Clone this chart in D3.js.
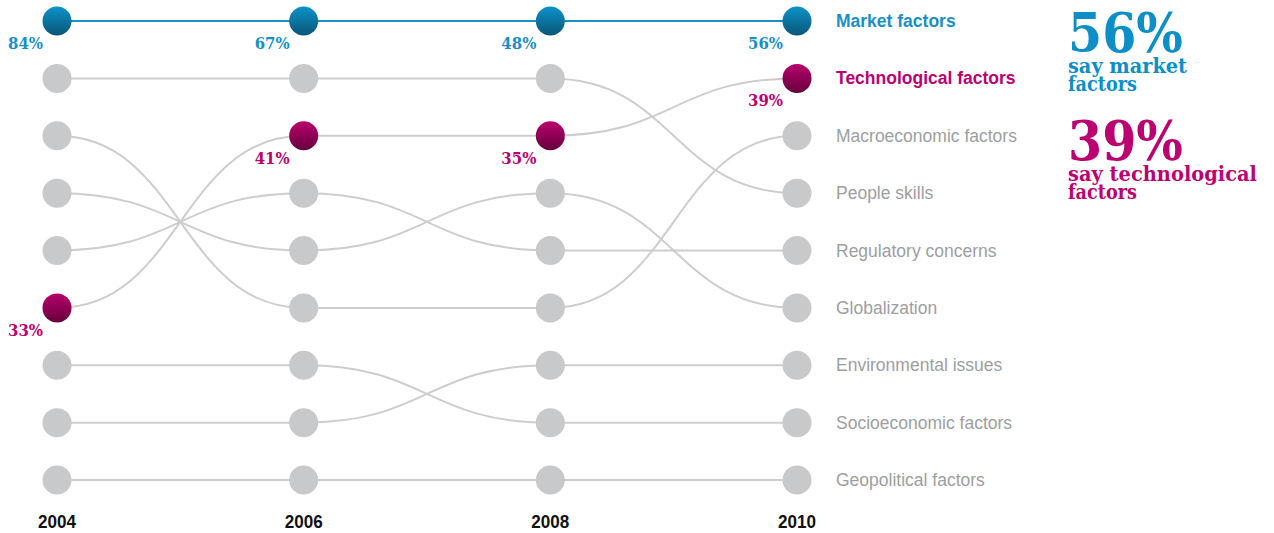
<!DOCTYPE html>
<html>
<head>
<meta charset="utf-8">
<script src="https://cdn.jsdelivr.net/npm/d3@7"></script>
<style>
  body { margin: 0; background: #fff; }
  svg { display: block; }
</style>
</head>
<body>
<svg id="chart" width="1274" height="533"></svg>
<script>
// survey years and factor ranks (1 = top)
const years = ["2004", "2006", "2008", "2010"]
const factors = ["Market factors", "Technological factors", "Macroeconomic factors", "People skills",
  "Regulatory concerns", "Globalization", "Environmental issues", "Socioeconomic factors", "Geopolitical factors"]
const ranks = [
  [1, 1, 1, 1],
  [6, 3, 3, 2],
  [3, 6, 6, 3],
  [2, 2, 2, 4],
  [5, 4, 5, 5],
  [4, 5, 4, 6],
  [8, 8, 7, 7],
  [7, 7, 8, 8],
  [9, 9, 9, 9]
]
const marketPct = [84, 67, 48, 56]
const techPct = [33, 41, 35, 39]

const blue = "#1a8fc6"
const magenta = "#b9006f"
const grey = "#c8c9cb"

const svg = d3.select("#chart")
const x = d3.scalePoint().domain(years).range([57, 797])
const y = d3.scaleLinear().domain([1, 9]).range([21, 480])

const defs = svg.append("defs")
const grad = (id, top, bottom) => {
  const g = defs.append("linearGradient").attr("id", id)
    .attr("x1", 0).attr("y1", 0).attr("x2", 0).attr("y2", 1)
  g.append("stop").attr("offset", "0%").attr("stop-color", top)
  g.append("stop").attr("offset", "100%").attr("stop-color", bottom)
}
grad("gBlue", "#0c93c9", "#0a5578")
grad("gMag", "#b8006d", "#66003c")

const line = d3.line()
  .x((d, i) => x(years[i]))
  .y(d => y(d))
  .curve(d3.curveBumpX)

// grey connectors first, market line on top
svg.append("g").selectAll("path")
  .data(ranks.map((r, i) => ({ r, i })).filter(d => d.i != 0))
  .enter().append("path")
  .attr("d", d => line(d.r))
  .attr("fill", "none")
  .attr("stroke", "#cdcdcd")
  .attr("stroke-width", 2)

svg.append("path")
  .attr("d", line(ranks[0]))
  .attr("fill", "none")
  .attr("stroke", blue)
  .attr("stroke-width", 2)

const dots = []
ranks.forEach((r, i) => {
  r.forEach((v, j) => dots.push({ f: i, year: years[j], rank: v }))
})
svg.append("g").selectAll("circle")
  .data(dots)
  .enter().append("circle")
  .attr("cx", d => x(d.year))
  .attr("cy", d => y(d.rank))
  .attr("r", 14.5)
  .attr("fill", d => d.f == 0 ? "url(#gBlue)" : d.f == 1 ? "url(#gMag)" : grey)

// percent labels
const pctLabel = (vals, idx, color) => {
  svg.append("g").selectAll("text")
    .data(vals)
    .enter().append("text")
    .attr("x", (d, j) => x(years[j]) - 14)
    .attr("y", (d, j) => y(ranks[idx][j]) + 28)
    .attr("text-anchor", "end")
    .attr("font-family", "DejaVu Serif")
    .attr("font-weight", "bold")
    .attr("font-size", 16)
    .attr("textLength", 35).attr("lengthAdjust", "spacingAndGlyphs")
    .attr("fill", color)
    .text(d => d + "%")
}
pctLabel(marketPct, 0, blue)
pctLabel(techPct, 1, magenta)

// factor names by 2010 rank
svg.append("g").selectAll("text")
  .data(factors)
  .enter().append("text")
  .attr("x", 836)
  .attr("y", (d, i) => y(ranks[i][3]) + 6)
  .attr("font-family", "Liberation Sans, Arial, sans-serif")
  .attr("font-size", 17.5)
  .attr("font-weight", (d, i) => i < 2 ? "bold" : "normal")
  .attr("fill", (d, i) => i == 0 ? blue : i == 1 ? magenta : "#9d9ea0")
  .text(d => d)

// year axis
svg.append("g").selectAll("text")
  .data(years)
  .enter().append("text")
  .attr("x", d => x(d))
  .attr("y", 528)
  .attr("text-anchor", "middle")
  .attr("font-family", "Liberation Sans, Arial, sans-serif")
  .attr("font-weight", "bold")
  .attr("font-size", 19)
  .attr("textLength", 38).attr("lengthAdjust", "spacingAndGlyphs")
  .attr("fill", "#111")
  .text(d => d)

// callouts on the right
const callout = (pct, lines, top, color) => {
  const g = svg.append("g").attr("fill", color).attr("font-family", "DejaVu Serif")
  g.append("text").attr("x", 1068).attr("y", top)
    .attr("font-size", 55).attr("font-weight", "bold")
    .attr("textLength", 115).attr("lengthAdjust", "spacingAndGlyphs")
    .text(pct + "%")
  lines.forEach((t, k) => {
    g.append("text").attr("x", 1068).attr("y", top + 21 + k * 18)
      .attr("font-size", 20).attr("font-weight", "bold")
      .attr("textLength", t[1]).attr("lengthAdjust", "spacingAndGlyphs")
      .text(t[0])
  })
}
callout(marketPct[3], [["say market", 119], ["factors", 69]], 52, "#0b8fc6")
callout(techPct[3], [["say technological", 189], ["factors", 69]], 160, "#bb0070")
</script>
</body>
</html>
